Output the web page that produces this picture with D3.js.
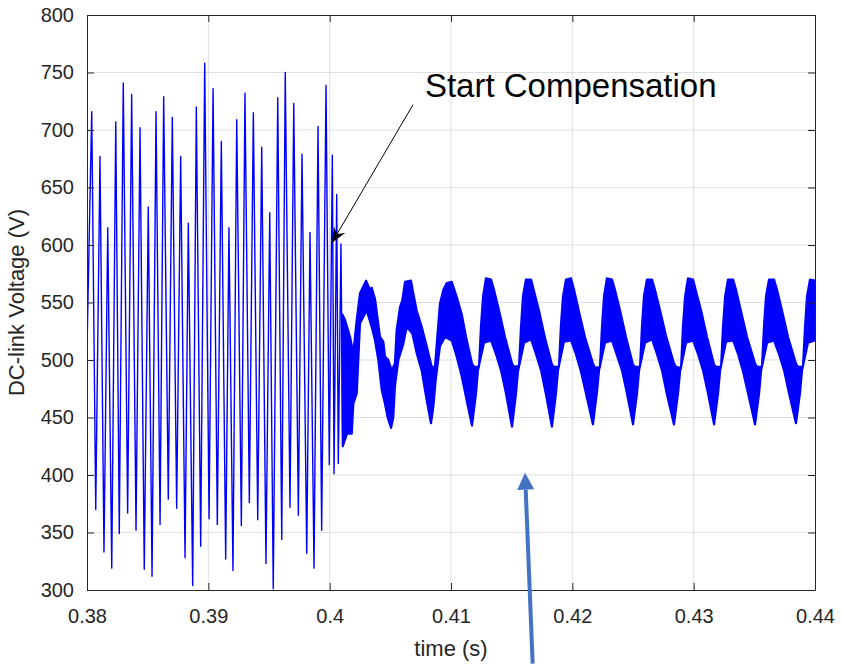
<!DOCTYPE html>
<html>
<head>
<meta charset="utf-8">
<script src="https://cdn.jsdelivr.net/npm/d3@7"></script>
<style>
  body { margin: 0; background: #fff; }
  svg { font-family: "Liberation Sans", Arial, Helvetica, sans-serif; }
  .axis path, .axis line { stroke: #262626; }
  .axis text { fill: #262626; font-size: 20px; }
</style>
</head>
<body>
<svg id="chart"></svg>
<script>
// DC-link voltage before / after compensation

const width = 843;
const height = 664;
const margin = {top: 15, right: 28, bottom: 74, left: 87};

// axis ticks
const xTicks = [0.38, 0.39, 0.40, 0.41, 0.42, 0.43, 0.44];
const yTicks = [300, 350, 400, 450, 500, 550, 600, 650, 700, 750, 800];

// before compensation: peaks and troughs of the oscillation
const preTime = [0.38, 0.38039, 0.38072, 0.38107, 0.38140, 0.38171, 0.38204, 0.38237, 0.38266, 0.38299,
  0.38335, 0.38368, 0.38404, 0.38437, 0.38472, 0.38505, 0.38536, 0.38569, 0.38602, 0.38632,
  0.38670, 0.38703, 0.38739, 0.38772, 0.38808, 0.38835, 0.38871, 0.38901, 0.38937, 0.38970,
  0.39006, 0.39039, 0.39074, 0.39107, 0.39143, 0.39170, 0.39203, 0.39234, 0.39272, 0.39302,
  0.39338, 0.39371, 0.39407, 0.39440, 0.39475, 0.39506, 0.39535, 0.39572, 0.39605, 0.39634,
  0.39673, 0.39704, 0.39742, 0.39772, 0.39811, 0.39838, 0.39871, 0.39904, 0.39934, 0.39970,
  0.39997, 0.40022, 0.40036, 0.40058, 0.40071, 0.40093, 0.40108];
const preVolt = [510, 716, 370, 677, 333, 615, 319, 707, 349, 741,
  367, 731, 352, 702, 318, 633, 312, 716, 357, 729,
  379, 711, 371, 677, 328, 619, 304, 720, 338, 758,
  362, 736, 357, 690, 327, 615, 317, 709, 356, 732,
  376, 715, 361, 685, 323, 628, 301, 728, 344, 750,
  372, 723, 365, 679, 332, 611, 319, 703, 352, 739,
  409, 678, 401, 644, 410, 601, 425];

// after compensation: upper edge of the ripple band [t, V]
const bandUpper = [
  [0.40102,540],[0.40126,535],[0.40168,520],[0.40195,506],[0.40223,535],[0.40250,558],[0.40300,569],
  [0.40332,561],[0.40346,563],[0.40374,553],[0.40396,535],[0.40415,520],[0.40442,516],[0.40456,503],
  [0.40483,500],[0.40511,491],[0.40538,497],[0.40552,526],[0.40580,546],[0.40599,552],[0.40621,568],
  [0.40670,569],[0.40689,558],[0.40717,543],[0.40758,529],[0.40800,512],[0.40841,494],[0.40868,494],
  [0.40887,520],[0.40909,549],[0.40937,561],[0.40965,567],[0.41006,568],[0.41047,555],[0.41088,540],
  [0.41124,520],
  [0.41173,497],[0.41190,494],[0.41231,494],[0.41247,529],[0.41264,555],[0.41288,571],[0.41330,570],[0.41354,561],[0.41396,543],[0.41445,520],
  [0.41503,497],[0.41519,494],[0.41561,495],[0.41577,529],[0.41594,556],[0.41618,570],[0.41660,570],[0.41684,560],[0.41725,543],[0.41775,519],
  [0.41832,496],[0.41849,494],[0.41890,494],[0.41906,530],[0.41923,555],[0.41948,570],[0.41989,571],[0.42014,561],[0.42055,542],[0.42104,520],
  [0.42170,497],[0.42187,493],[0.42228,494],[0.42244,528],[0.42261,555],[0.42285,571],[0.42327,570],[0.42351,561],[0.42393,543],[0.42442,520],
  [0.42500,496],[0.42517,494],[0.42558,494],[0.42574,529],[0.42591,556],[0.42615,570],[0.42657,570],[0.42681,561],[0.42723,543],[0.42772,521],
  [0.42838,497],[0.42855,494],[0.42896,493],[0.42912,529],[0.42929,555],[0.42953,571],[0.42995,570],[0.43019,560],[0.43061,543],[0.43110,520],
  [0.43168,496],[0.43185,494],[0.43226,494],[0.43242,529],[0.43259,555],[0.43283,570],[0.43325,570],[0.43349,561],[0.43391,542],[0.43440,520],
  [0.43506,497],[0.43522,494],[0.43563,494],[0.43580,530],[0.43596,555],[0.43621,570],[0.43662,570],[0.43687,561],[0.43728,543],[0.43778,520],
  [0.43843,497],[0.43860,494],[0.43901,494],[0.43918,529],[0.43934,555],[0.43959,570],[0.44000,569]
];

// after compensation: lower edge of the ripple band [t, V]
const bandLower = [
  [0.40108,425],[0.40143,436],[0.40182,436],[0.40195,462],[0.40223,471],[0.40236,500],[0.40250,532],
  [0.40305,543],[0.40346,529],[0.40374,517],[0.40401,500],[0.40429,474],[0.40456,462],[0.40478,450],
  [0.40506,441],[0.40524,450],[0.40538,477],[0.40566,500],[0.40607,514],[0.40635,529],[0.40681,523],
  [0.40717,506],[0.40758,491],[0.40800,465],[0.40835,445],[0.40854,459],[0.40874,483],[0.40909,512],
  [0.40951,520],[0.41006,517],[0.41047,503],[0.41088,486],[0.41129,465],
  [0.41173,443],[0.41206,471],[0.41222,491],[0.41272,515],[0.41330,517],[0.41371,505],[0.41412,491],[0.41453,471],
  [0.41503,442],[0.41536,471],[0.41552,490],[0.41602,515],[0.41660,518],[0.41701,505],[0.41742,491],[0.41783,470],
  [0.41832,442],[0.41865,471],[0.41882,491],[0.41931,516],[0.41989,517],[0.42030,505],[0.42071,490],[0.42112,471],
  [0.42170,444],[0.42203,472],[0.42220,491],[0.42269,515],[0.42327,517],[0.42368,504],[0.42409,491],[0.42450,471],
  [0.42500,444],[0.42533,471],[0.42550,491],[0.42599,515],[0.42657,518],[0.42698,505],[0.42739,491],[0.42780,470],
  [0.42838,444],[0.42871,471],[0.42888,490],[0.42937,515],[0.42995,517],[0.43036,505],[0.43077,491],[0.43118,471],
  [0.43168,444],[0.43201,471],[0.43218,491],[0.43267,516],[0.43325,517],[0.43366,505],[0.43407,490],[0.43448,471],
  [0.43506,444],[0.43539,471],[0.43556,491],[0.43605,515],[0.43662,517],[0.43704,505],[0.43745,491],[0.43786,471],
  [0.43843,445],[0.43876,471],[0.43893,491],[0.43942,515],[0.44000,517]
];

// annotations, in data units [t, V]
const noteText = "Start Compensation";
const noteTextAt = [0.40785, 729];
const noteArrow = [[0.40687, 722], [0.40019, 602]];
const blueArrow = [[0.41673, 236], [0.41610, 402]];

const svg = d3.select('#chart')
  .attr('width', width)
  .attr('height', height);

const x = d3.scaleLinear().domain([0.38, 0.44]).range([margin.left, width - margin.right]);
const y = d3.scaleLinear().domain([300, 800]).range([height - margin.bottom, margin.top]);

const defs = svg.append('defs');
defs.append('clipPath').attr('id', 'plotclip')
  .append('rect')
  .attr('x', margin.left).attr('y', margin.top)
  .attr('width', x(0.44) - x(0.38)).attr('height', y(300) - y(800));

defs.append('marker')
  .attr('id', 'blackhead')
  .attr('viewBox', '-16 -8 18 16')
  .attr('markerUnits', 'userSpaceOnUse')
  .attr('markerWidth', 18).attr('markerHeight', 16)
  .attr('refX', 0).attr('refY', 0)
  .attr('orient', 'auto')
  .append('path')
  .attr('d', 'M0,0 L-15,-6.5 L-10,0 L-15,6.5 Z')
  .attr('fill', '#000');

// grid
const grid = svg.append('g');
grid.selectAll('.gx').data(xTicks.slice(1, -1)).enter().append('line')
  .attr('x1', d => x(d)).attr('x2', d => x(d))
  .attr('y1', y(300)).attr('y2', y(800))
  .attr('stroke', '#dfdfdf').attr('stroke-width', 1);
grid.selectAll('.gy').data(yTicks.slice(1, -1)).enter().append('line')
  .attr('x1', x(0.38)).attr('x2', x(0.44))
  .attr('y1', d => y(d)).attr('y2', d => y(d))
  .attr('stroke', '#dfdfdf').attr('stroke-width', 1);

const plot = svg.append('g').attr('clip-path', 'url(#plotclip)');

// oscillation before compensation
const preData = preTime.map((t, i) => [t, preVolt[i]]);
const line = d3.line().x(d => x(d[0])).y(d => y(d[1]));
plot.append('path')
  .attr('d', line(preData))
  .attr('fill', 'none')
  .attr('stroke', '#0000ff')
  .attr('stroke-width', 1.4)
  .attr('stroke-linejoin', 'round');

// ripple band after compensation
const band = bandUpper.concat(bandLower.slice().reverse());
plot.append('path')
  .attr('d', line(band) + 'Z')
  .attr('fill', '#0000ff')
  .attr('stroke', '#0000ff')
  .attr('stroke-width', 2.2)
  .attr('stroke-linejoin', 'round');

// axes
const fmt = d => String(+d.toFixed(2));
svg.append('g').attr('class', 'axis')
  .attr('transform', `translate(0,${y(300)})`)
  .call(d3.axisBottom(x).tickValues(xTicks).tickFormat(fmt).tickSizeInner(-7).tickSizeOuter(0).tickPadding(19));
svg.append('g').attr('class', 'axis')
  .attr('transform', `translate(0,${y(800)})`)
  .call(d3.axisTop(x).tickValues(xTicks).tickFormat('').tickSizeInner(-7).tickSizeOuter(0));
svg.append('g').attr('class', 'axis')
  .attr('transform', `translate(${x(0.38)},0)`)
  .call(d3.axisLeft(y).tickValues(yTicks).tickFormat(d3.format('d')).tickSizeInner(-7).tickSizeOuter(0).tickPadding(13));
svg.append('g').attr('class', 'axis')
  .attr('transform', `translate(${x(0.44)},0)`)
  .call(d3.axisRight(y).tickValues(yTicks).tickFormat('').tickSizeInner(-7).tickSizeOuter(0));

// axis titles
svg.append('text')
  .attr('x', x(0.41)).attr('y', 656)
  .attr('text-anchor', 'middle')
  .attr('font-size', 22).attr('fill', '#262626')
  .text('time (s)');
svg.append('text')
  .attr('transform', `translate(24,${(y(300) + y(800)) / 2}) rotate(-90)`)
  .attr('text-anchor', 'middle')
  .attr('font-size', 22).attr('fill', '#262626')
  .text('DC-link Voltage (V)');

// annotation
svg.append('line')
  .attr('x1', x(noteArrow[0][0])).attr('y1', y(noteArrow[0][1]))
  .attr('x2', x(noteArrow[1][0])).attr('y2', y(noteArrow[1][1]))
  .attr('stroke', '#000').attr('stroke-width', 1)
  .attr('marker-end', 'url(#blackhead)');
svg.append('text')
  .attr('x', x(noteTextAt[0])).attr('y', y(noteTextAt[1]))
  .attr('font-size', 33).attr('fill', '#000')
  .text(noteText);

// blue pointer arrow
const bx1 = x(blueArrow[0][0]), by1 = y(blueArrow[0][1]);
const bx2 = x(blueArrow[1][0]), by2 = y(blueArrow[1][1]);
const ang = Math.atan2(by2 - by1, bx2 - bx1);
const headLen = 17, headHalf = 8.5;
const baseX = bx2 - headLen * Math.cos(ang), baseY = by2 - headLen * Math.sin(ang);
svg.append('line')
  .attr('x1', bx1).attr('y1', by1)
  .attr('x2', baseX).attr('y2', baseY)
  .attr('stroke', '#4472c4').attr('stroke-width', 4);
svg.append('path')
  .attr('d', `M${bx2},${by2} L${baseX + headHalf * Math.sin(ang)},${baseY - headHalf * Math.cos(ang)} L${baseX - headHalf * Math.sin(ang)},${baseY + headHalf * Math.cos(ang)} Z`)
  .attr('fill', '#4472c4');
</script>
</body>
</html>
